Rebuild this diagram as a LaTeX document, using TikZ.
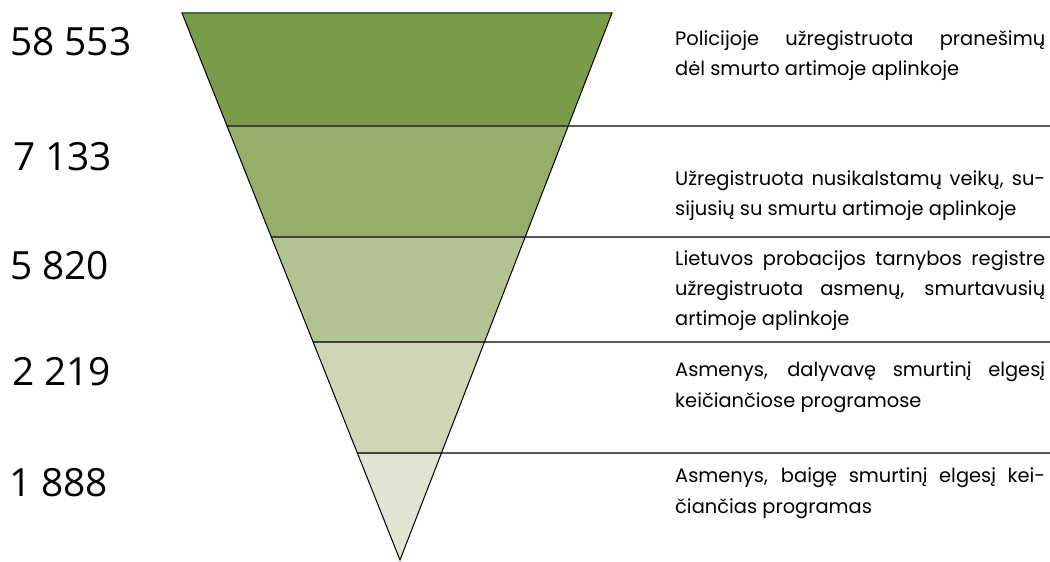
\documentclass[tikz,border=0pt]{standalone}
\usepackage{fontspec}
\setmainfont{Poppins}
\newfontfamily\numfont{Open Sans}
\usepackage[HTML]{xcolor}
\usetikzlibrary{calc}

\definecolor{bandA}{HTML}{7A9C49}
\definecolor{bandB}{HTML}{97AE6A}
\definecolor{bandC}{HTML}{B3C292}
\definecolor{bandD}{HTML}{CFD6B5}
\definecolor{bandE}{HTML}{E1E4D1}

\newcommand{\jline}[1]{\makebox[370bp][s]{#1}}

\begin{document}
\begin{tikzpicture}[x=1bp, y=-1bp,
  count/.style={anchor=west, inner sep=0pt, font=\numfont\fontsize{39}{39}\selectfont},
  descr/.style={anchor=base west, inner sep=0pt, align=left, font=\fontsize{19.5}{30.5}\selectfont},
  rim/.style={draw=black, line width=1bp, line join=miter},
  cut/.style={draw=black!75, line width=1.6bp},
  lead/.style={draw=black, line width=1.3bp}]
\useasboundingbox (0,0) rectangle (1050,562);

\coordinate (tl) at (182,13);
\coordinate (tr) at (612,13);
\coordinate (tip) at (400,560);

% funnel bands
\begin{scope}
\clip (tl) -- (tr) -- (tip) -- cycle;
\fill[bandA] (150,13) rectangle (650,126);
\fill[bandB] (150,126) rectangle (650,237);
\fill[bandC] (150,237) rectangle (650,342);
\fill[bandD] (150,342) rectangle (650,453);
\fill[bandE] (150,453) rectangle (650,562);
\end{scope}

\foreach \y [count=\i, evaluate=\y as \t using (\y-13)/547] in {126,237,342,453} {
  \coordinate (l\i) at ($(tl)!\t!(tip)$);
  \coordinate (r\i) at ($(tr)!\t!(tip)$);
  \coordinate (e\i) at (1050,\y);
  \draw[cut] (l\i) -- (r\i);
  \draw[lead] (r\i) -- (e\i);
}
\draw[rim] (tl) -- (tr) -- (tip) -- cycle;

% numbers
\node[count] (n1) at (10,42) {58 553};
\node[count] (n2) at (13,157) {7 133};
\node[count] (n3) at (10,266) {5 820};
\node[count] (n4) at (12,372) {2 219};
\node[count] (n5) at (9,483) {1 888};

% descriptions (base = last line)
\node[descr] (d1) at (675,76) {\jline{Policijoje užregistruota pranešimų}\\ dėl smurto artimoje aplinkoje};
\node[descr] (d2) at (675,216) {\jline{Užregistruota nusikalstamų veikų, su-}\\ sijusių su smurtu artimoje aplinkoje};
\node[descr] (d3) at (675,326) {\jline{Lietuvos probacijos tarnybos registre}\\ \jline{užregistruota asmenų, smurtavusių}\\ artimoje aplinkoje};
\node[descr] (d4) at (675,407) {\jline{Asmenys, dalyvavę smurtinį elgesį}\\ keičiančiose programose};
\node[descr] (d5) at (675,513) {\jline{Asmenys, baigę smurtinį elgesį kei-}\\ čiančias programas};

\end{tikzpicture}
\end{document}
